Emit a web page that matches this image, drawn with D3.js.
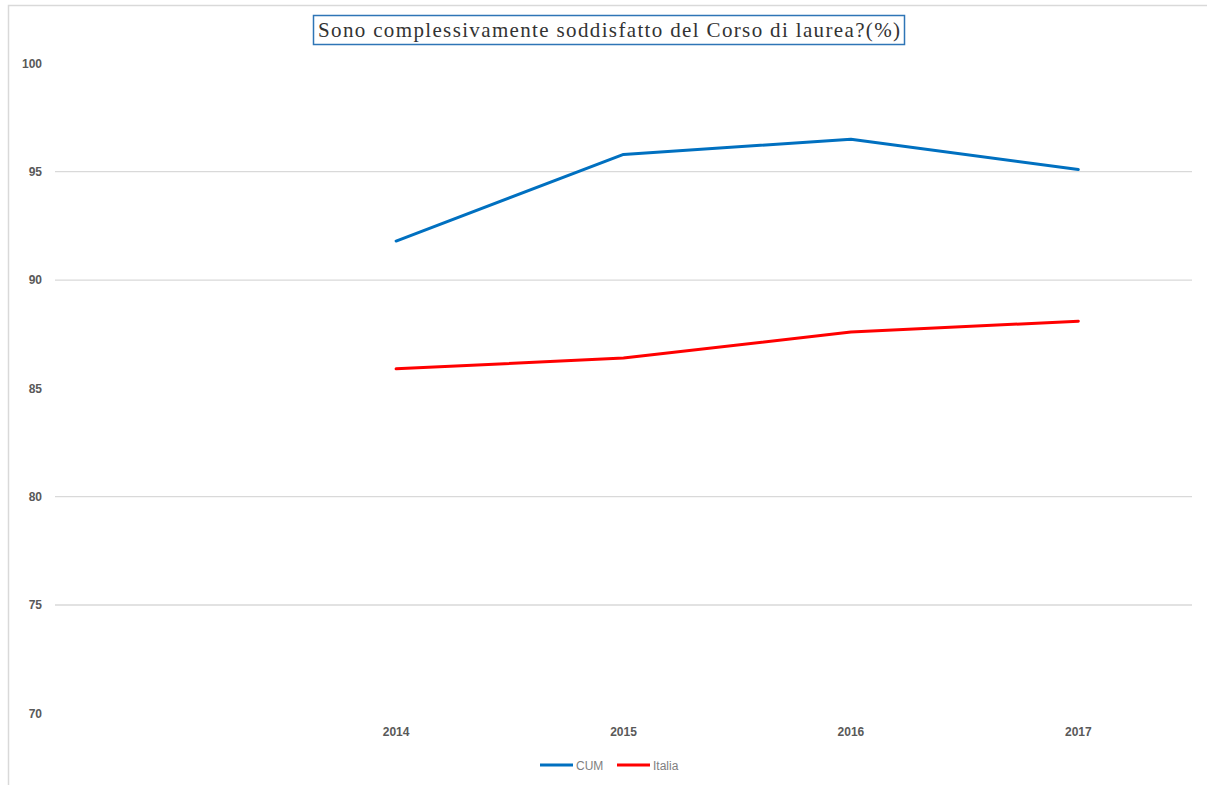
<!DOCTYPE html>
<html><head><meta charset="utf-8">
<script src="https://cdn.jsdelivr.net/npm/d3@7"></script>
<style>body{margin:0;background:#fff}svg{display:block}</style>
</head><body>
<svg id="c" width="1207" height="785"></svg>
<script>
const categories = ["", "2014", "2015", "2016", "2017"];
const cumValues = [null, 91.8, 95.8, 96.5, 95.1];
const italiaValues = [null, 85.9, 86.4, 87.6, 88.1];
const yTicks = [70, 75, 80, 85, 90, 95, 100];
const gridTicks = [75, 80, 90, 95];
const seriesNames = ["CUM", "Italia"];
const seriesColors = ["#0070c0", "#ff0000"];
const titleText = "Sono complessivamente soddisfatto del Corso di laurea?(%)";

const svg = d3.select("#c");
// outer frame
svg.append("rect").attr("x", 8.5).attr("y", 5.5).attr("width", 1210).attr("height", 800)
  .attr("fill", "none").attr("stroke", "#d9d9d9").attr("stroke-width", 1.5);

const x = d3.scaleBand().domain(categories.map((d,i)=>i)).range([55, 1192]);
const y = d3.scaleLinear().domain([70, 100]).range([713.3, 63.4]);

// gridlines
svg.append("g").selectAll("line").data(gridTicks).join("line")
  .attr("x1", 55).attr("x2", 1192)
  .attr("y1", d => y(d)).attr("y2", d => y(d))
  .attr("stroke", "#d9d9d9").attr("stroke-width", 1.3);

// y axis labels
const yAxis = d3.axisLeft(y).tickValues(yTicks).tickSize(0).tickPadding(0);
const gy = svg.append("g").attr("transform", "translate(42,0)").call(yAxis);
gy.select(".domain").remove();
gy.selectAll("text").attr("font-family", "'Liberation Sans', Arial, sans-serif")
  .attr("font-size", 12).attr("font-weight", "bold").attr("fill", "#595959");

// x axis labels
const xAxis = d3.axisBottom(x).tickFormat(i => categories[i]).tickSize(0).tickPadding(0);
const gx = svg.append("g").attr("transform", "translate(0,727)").call(xAxis);
gx.select(".domain").remove();
gx.selectAll("text").attr("font-family", "'Liberation Sans', Arial, sans-serif")
  .attr("font-size", 12).attr("font-weight", "bold").attr("fill", "#595959");

// lines
const line = d3.line().defined(d => d.v != null)
  .x(d => x(d.i) + x.bandwidth()/2).y(d => y(d.v));
[cumValues, italiaValues].forEach((vals, k) => {
  svg.append("path").datum(vals.map((v,i)=>({i, v})))
    .attr("d", line).attr("fill", "none")
    .attr("stroke", seriesColors[k]).attr("stroke-width", 3)
    .attr("stroke-linejoin", "round").attr("stroke-linecap", "round");
});

// title
const tg = svg.append("g");
const tt = tg.append("text").attr("x", 609).attr("y", 37).attr("text-anchor", "middle")
  .attr("font-family", "'Liberation Serif', 'Times New Roman', serif")
  .attr("font-size", 21).attr("fill", "#333333")
  .attr("textLength", 582).attr("lengthAdjust", "spacing")
  .text(titleText);
tg.insert("rect", "text").attr("x", 313.5).attr("y", 15.5).attr("width", 591).attr("height", 29)
  .attr("fill", "#fff").attr("stroke", "#2e75b6").attr("stroke-width", 1.5);

// legend
const legX = [540, 617];
seriesNames.forEach((n, k) => {
  const g = svg.append("g").attr("transform", `translate(${legX[k]},765)`);
  g.append("line").attr("x1", 0).attr("x2", 33).attr("y1", 0).attr("y2", 0)
    .attr("stroke", seriesColors[k]).attr("stroke-width", 3);
  g.append("text").attr("x", 36).attr("y", 4.5)
    .attr("font-family", "'Liberation Sans', Arial, sans-serif")
    .attr("font-size", 12).attr("fill", "#7f7f7f").text(n);
});
</script>
</body></html>
